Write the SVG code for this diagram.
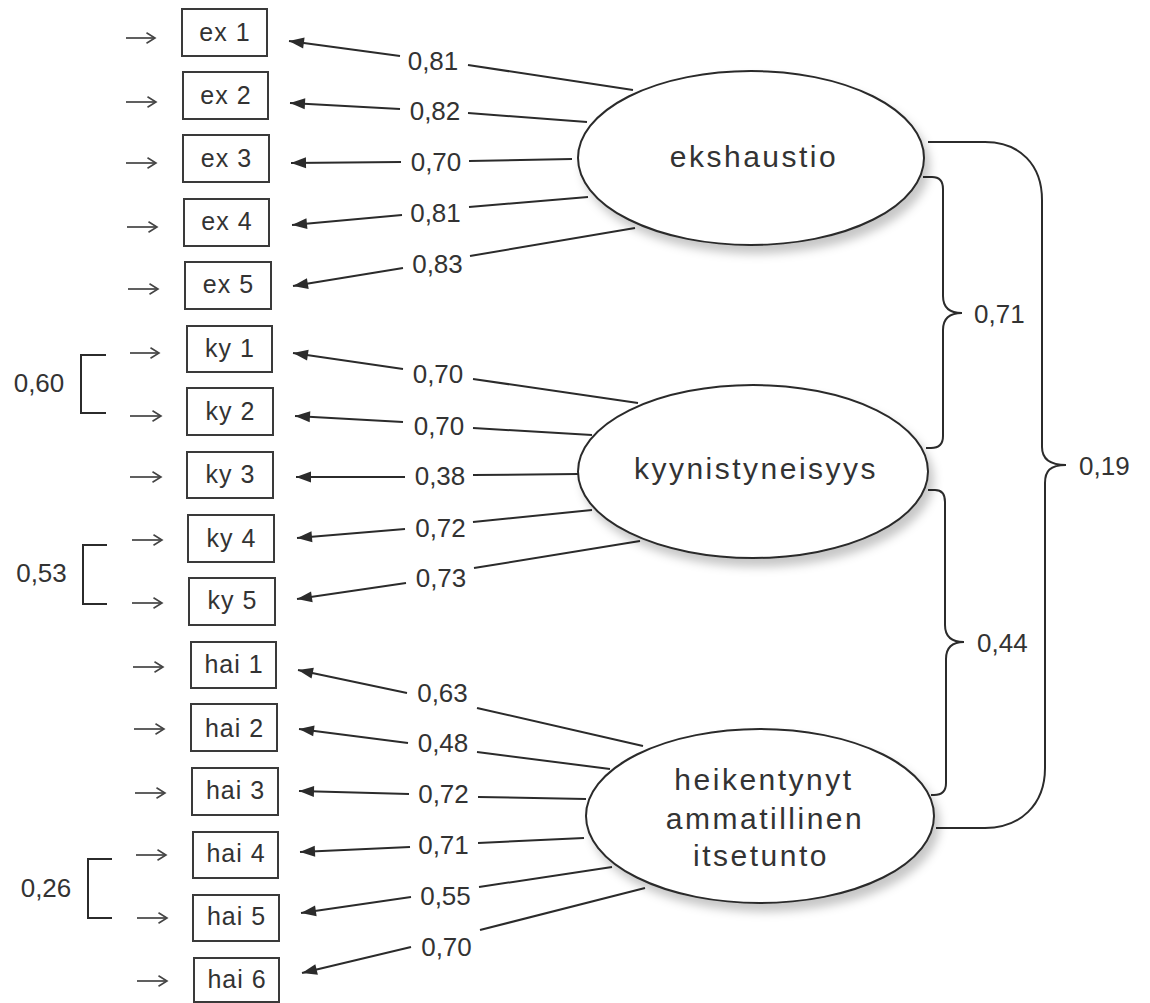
<svg xmlns="http://www.w3.org/2000/svg" width="1150" height="1003" viewBox="0 0 1150 1003">
<style>
.box{fill:#fff;stroke:#3a3a3a;stroke-width:2}
.lat{fill:#fff;stroke:#2b2b2b;stroke-width:2}
.bt{font-family:"Liberation Sans",Arial,sans-serif;font-size:25px;fill:#333;text-anchor:middle;letter-spacing:1px}
.lt{font-family:"Liberation Sans",Arial,sans-serif;font-size:30px;fill:#333;text-anchor:middle;letter-spacing:2.5px}
.num{font-family:"Liberation Sans",Arial,sans-serif;font-size:26px;fill:#333;text-anchor:middle}
.nums{font-family:"Liberation Sans",Arial,sans-serif;font-size:26px;fill:#333}
.ld{fill:none;stroke:#2b2b2b;stroke-width:2}
.ldA{fill:none;stroke:#2b2b2b;stroke-width:2;marker-end:url(#ah)}
.err{fill:none;stroke:#444;stroke-width:1.7;marker-end:url(#oh)}
.br{fill:none;stroke:#2b2b2b;stroke-width:2}
</style>
<defs>
<marker id="ah" markerUnits="userSpaceOnUse" markerWidth="16" markerHeight="12" refX="15" refY="6" orient="auto" overflow="visible"><path d="M0,0.5 L15,6 L0,11.5 z" fill="#2b2b2b"/></marker>
<marker id="oh" markerUnits="userSpaceOnUse" markerWidth="11" markerHeight="12" refX="9.5" refY="6" orient="auto" overflow="visible"><path d="M1,0.8 L9.5,6 L1,11.2" fill="none" stroke="#444" stroke-width="1.6"/></marker>
<filter id="sh" x="-20%" y="-20%" width="150%" height="160%"><feDropShadow dx="5" dy="8" stdDeviation="5" flood-color="#000" flood-opacity="0.22"/></filter>
</defs>

<g id="connectors">
  <line class="err" x1="126" y1="38" x2="155" y2="38"/>
  <line class="err" x1="126" y1="102" x2="156" y2="102"/>
  <line class="err" x1="126" y1="163" x2="156" y2="163"/>
  <line class="err" x1="127" y1="227" x2="157" y2="227"/>
  <line class="err" x1="128" y1="289" x2="158" y2="289"/>
  <line class="err" x1="130" y1="353" x2="159" y2="353"/>
  <line class="err" x1="130" y1="416" x2="161" y2="416"/>
  <line class="err" x1="130" y1="477" x2="161" y2="477"/>
  <line class="err" x1="132" y1="540" x2="162" y2="540"/>
  <line class="err" x1="132" y1="603" x2="162" y2="603"/>
  <line class="err" x1="133" y1="667" x2="163" y2="667" stroke-width="2.4"/>
  <line class="err" x1="134" y1="729" x2="164" y2="729"/>
  <line class="err" x1="135" y1="793" x2="165" y2="793"/>
  <line class="err" x1="136" y1="855" x2="166" y2="855"/>
  <line class="err" x1="137" y1="918" x2="167" y2="918"/>
  <line class="err" x1="137" y1="981" x2="167" y2="981"/>

  <path class="br" d="M106,355 H81 V413 H106"/>
  <path class="br" d="M107,545 H83 V604 H107"/>
  <path class="br" d="M112,859 H88 V918 H112"/>

  <line class="ldA" x1="400" y1="56" x2="289" y2="41"/>
  <line class="ld" x1="468" y1="65" x2="633" y2="90"/>
  <line class="ldA" x1="400" y1="109" x2="290" y2="103"/>
  <line class="ld" x1="468" y1="113" x2="587" y2="122"/>
  <line class="ldA" x1="401" y1="162" x2="291" y2="163"/>
  <line class="ld" x1="469" y1="161" x2="572" y2="159"/>
  <line class="ldA" x1="402" y1="215" x2="292" y2="225"/>
  <line class="ld" x1="469" y1="207" x2="588" y2="197"/>
  <line class="ldA" x1="403" y1="268" x2="293" y2="286"/>
  <line class="ld" x1="470" y1="256" x2="635" y2="228"/>

  <line class="ldA" x1="403" y1="369" x2="293" y2="353"/>
  <line class="ld" x1="473" y1="379" x2="638" y2="403"/>
  <line class="ldA" x1="403" y1="422" x2="295" y2="416"/>
  <line class="ld" x1="473" y1="428" x2="592" y2="435"/>
  <line class="ldA" x1="405" y1="477" x2="296" y2="477"/>
  <line class="ld" x1="473" y1="475" x2="578" y2="474"/>
  <line class="ldA" x1="405" y1="529" x2="297" y2="538"/>
  <line class="ld" x1="473" y1="522" x2="592" y2="510"/>
  <line class="ldA" x1="406" y1="583" x2="297" y2="599"/>
  <line class="ld" x1="474" y1="568" x2="640" y2="541"/>

  <line class="ldA" x1="407" y1="693" x2="298" y2="670"/>
  <line class="ld" x1="477" y1="708" x2="643" y2="746"/>
  <line class="ldA" x1="408" y1="743" x2="299" y2="729"/>
  <line class="ld" x1="477" y1="752" x2="610" y2="769"/>
  <line class="ldA" x1="409" y1="794" x2="299" y2="791"/>
  <line class="ld" x1="478" y1="797" x2="586" y2="799"/>
  <line class="ldA" x1="410" y1="847" x2="300" y2="852"/>
  <line class="ld" x1="478" y1="843" x2="584" y2="838"/>
  <line class="ldA" x1="411" y1="897" x2="301" y2="913"/>
  <line class="ld" x1="479" y1="887" x2="612" y2="867"/>
  <line class="ldA" x1="411" y1="947" x2="302" y2="973"/>
  <line class="ld" x1="480" y1="930" x2="645" y2="888"/>

  <path class="br" d="M923,177 H932 Q943,177 943,189 V296 C943,308 950,313 962,313 C950,313 943,318 943,330 V436 Q943,448 931,448 H926"/>
  <path class="br" d="M928,490 H935 Q945,490 945,502 V625 C945,637 952,642 964,642 C952,642 946,647 946,659 V783 Q946,795 934,795 H931"/>
  <path class="br" d="M928,142 H985 C1020,142 1042,165 1042,200 V447 C1042,459 1050,465 1066,465 C1050,465 1045,471 1045,483 V768 C1045,805 1020,828 985,828 H936"/>

  <text class="num" x="39" y="392">0,60</text>
  <text class="num" x="41.5" y="582">0,53</text>
  <text class="num" x="46" y="897">0,26</text>
  <text class="nums" x="974" y="323">0,71</text>
  <text class="nums" x="977" y="652">0,44</text>
  <text class="nums" x="1079" y="475">0,19</text>

  <text class="num" x="433" y="70">0,81</text>
  <text class="num" x="435" y="120">0,82</text>
  <text class="num" x="436" y="171">0,70</text>
  <text class="num" x="435.5" y="222">0,81</text>
  <text class="num" x="437.5" y="273">0,83</text>
  <text class="num" x="438" y="383">0,70</text>
  <text class="num" x="439" y="435">0,70</text>
  <text class="num" x="440" y="485">0,38</text>
  <text class="num" x="440.5" y="537">0,72</text>
  <text class="num" x="441" y="587">0,73</text>
  <text class="num" x="442.5" y="702">0,63</text>
  <text class="num" x="443" y="752">0,48</text>
  <text class="num" x="443.5" y="803">0,72</text>
  <text class="num" x="443.5" y="854">0,71</text>
  <text class="num" x="445.5" y="905">0,55</text>
  <text class="num" x="446.5" y="956">0,70</text>
</g>

<g id="ex1"><rect class="box" x="182" y="9" width="85" height="47"/><text class="bt" x="225" y="41">ex 1</text></g>
<g id="ex2"><rect class="box" x="183" y="72" width="85" height="47"/><text class="bt" x="226" y="104">ex 2</text></g>
<g id="ex3"><rect class="box" x="183" y="135" width="86" height="47"/><text class="bt" x="226.5" y="167">ex 3</text></g>
<g id="ex4"><rect class="box" x="184" y="199" width="85" height="47"/><text class="bt" x="227" y="230">ex 4</text></g>
<g id="ex5"><rect class="box" x="185" y="262" width="86" height="47"/><text class="bt" x="228.5" y="293">ex 5</text></g>
<g id="ky1"><rect class="box" x="187" y="326" width="85" height="46"/><text class="bt" x="230" y="357">ky 1</text></g>
<g id="ky2"><rect class="box" x="187" y="388" width="86" height="47"/><text class="bt" x="230.5" y="420">ky 2</text></g>
<g id="ky3"><rect class="box" x="187" y="452" width="86" height="46"/><text class="bt" x="230.5" y="483">ky 3</text></g>
<g id="ky4"><rect class="box" x="188" y="515" width="86" height="47"/><text class="bt" x="231.5" y="547">ky 4</text></g>
<g id="ky5"><rect class="box" x="189" y="578" width="86" height="47"/><text class="bt" x="232.5" y="609">ky 5</text></g>
<g id="hai1"><rect class="box" x="191" y="642" width="85" height="46"/><text class="bt" x="234" y="673" letter-spacing="0">hai 1</text></g>
<g id="hai2"><rect class="box" x="191" y="704" width="86" height="47"/><text class="bt" x="234.5" y="737" letter-spacing="0">hai 2</text></g>
<g id="hai3"><rect class="box" x="192" y="768" width="86" height="47"/><text class="bt" x="235.5" y="799" letter-spacing="0">hai 3</text></g>
<g id="hai4"><rect class="box" x="193" y="832" width="85" height="46"/><text class="bt" x="236" y="862" letter-spacing="0">hai 4</text></g>
<g id="hai5"><rect class="box" x="193" y="895" width="86" height="46"/><text class="bt" x="236.5" y="925" letter-spacing="0">hai 5</text></g>
<g id="hai6"><rect class="box" x="194" y="958" width="85" height="44"/><text class="bt" x="237" y="988" letter-spacing="0">hai 6</text></g>

<g id="ekshaustio"><ellipse class="lat" filter="url(#sh)" cx="751" cy="158" rx="173" ry="87"/><text class="lt" x="754" y="167">ekshaustio</text></g>
<g id="kyynistyneisyys"><ellipse class="lat" filter="url(#sh)" cx="753" cy="471.5" rx="175" ry="86.5"/><text class="lt" x="756" y="479">kyynistyneisyys</text></g>
<g id="heikentynyt"><ellipse class="lat" filter="url(#sh)" cx="760" cy="816" rx="174" ry="87"/><text class="lt" x="764" y="790">heikentynyt</text><text class="lt" x="765" y="829">ammatillinen</text><text class="lt" x="761" y="866">itsetunto</text></g>
</svg>
